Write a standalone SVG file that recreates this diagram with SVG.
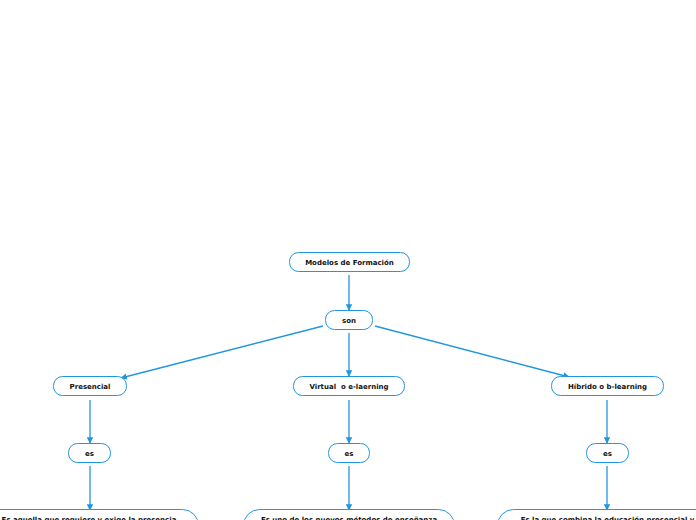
<svg xmlns="http://www.w3.org/2000/svg" width="696" height="520" viewBox="0 0 696 520">
<defs>
<style>
.n{fill:#fff;stroke:#2196e0;stroke-width:1}
.t{font-family:"DejaVu Sans",Verdana,sans-serif;font-weight:bold;font-size:7px;fill:#111;text-anchor:middle}
.c{stroke:#2196e0;stroke-width:1.3;fill:none;marker-end:url(#a)}
</style>
<marker id="a" viewBox="0 0 10 10" refX="9" refY="5" markerWidth="5" markerHeight="5" orient="auto" markerUnits="strokeWidth">
<path d="M0,0L10,5L0,10z" fill="#2196e0"/>
</marker>
</defs>
<rect width="696" height="520" fill="#fff"/>
<g id="connectors">
<line class="c" x1="349" y1="275" x2="349" y2="310"/>
<line class="c" x1="323" y1="326" x2="121" y2="378"/>
<line class="c" x1="349" y1="333" x2="349" y2="376"/>
<line class="c" x1="375" y1="326" x2="569" y2="377"/>
<line class="c" x1="90" y1="400" x2="90" y2="443"/>
<line class="c" x1="349" y1="400" x2="349" y2="443"/>
<line class="c" x1="607" y1="400" x2="607" y2="443"/>
<line class="c" x1="90" y1="466" x2="90" y2="510"/>
<line class="c" x1="349" y1="466" x2="349" y2="510"/>
<line class="c" x1="607" y1="466" x2="607" y2="510"/>
</g>
<g id="modelos"><rect class="n" x="289.5" y="252.5" width="120" height="19" rx="9"/><text class="t" x="349.5" y="264.5">Modelos de Formación</text></g>
<g id="son"><rect class="n" x="325.5" y="310.5" width="47" height="19" rx="9"/><text class="t" x="349" y="322.5">son</text></g>
<g id="presencial"><rect class="n" x="53.5" y="376.5" width="73" height="19" rx="9"/><text class="t" x="90" y="388.5">Presencial</text></g>
<g id="virtual"><rect class="n" x="293.5" y="376.5" width="111" height="19" rx="9"/><text class="t" x="349" y="388.5" xml:space="preserve">Virtual  o e-laerning</text></g>
<g id="hibrido"><rect class="n" x="551.5" y="376.5" width="112" height="19" rx="9"/><text class="t" x="607.5" y="388.5">Híbrido o b-learning</text></g>
<g id="es1"><rect class="n" x="68.5" y="443.5" width="42" height="19" rx="9"/><text class="t" x="89.5" y="455.5">es</text></g>
<g id="es2"><rect class="n" x="328.5" y="443.5" width="41" height="19" rx="9"/><text class="t" x="349" y="455.5">es</text></g>
<g id="es3"><rect class="n" x="586.5" y="443.5" width="42" height="19" rx="9"/><text class="t" x="607.5" y="455.5">es</text></g>
<g id="desc1"><rect class="n" x="-19.5" y="509.5" width="218" height="40" rx="16"/><text class="t" x="89" y="521.5">Es aquella que requiere y exige la presencia</text></g>
<g id="desc2"><rect class="n" x="243.5" y="509.5" width="211" height="40" rx="16"/><text class="t" x="349" y="521.5">Es uno de los nuevos métodos de enseñanza</text></g>
<g id="desc3"><rect class="n" x="497.5" y="509.5" width="220" height="40" rx="16"/><text class="t" x="607.5" y="521.5">Es la que combina la educación presencial y</text></g>
</svg>
